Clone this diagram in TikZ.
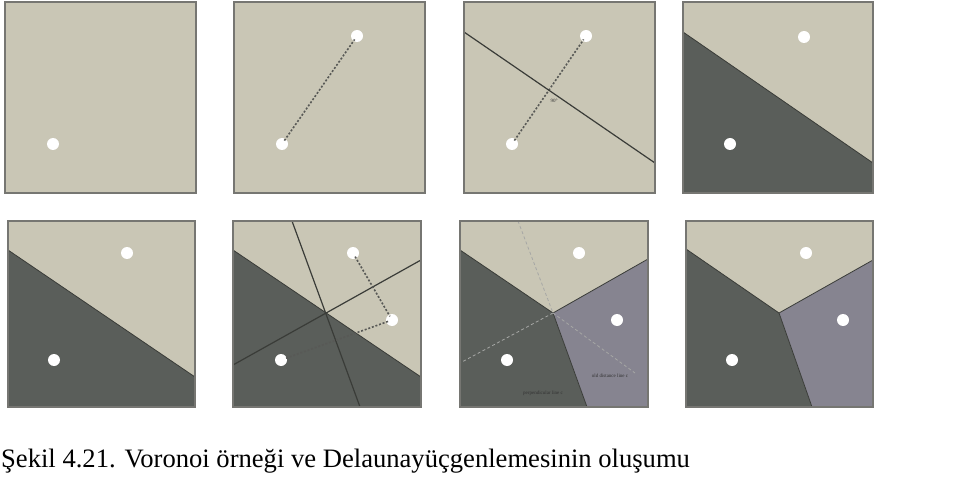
\documentclass[tikz,border=0pt]{standalone}
\usepackage{fontspec}
\setmainfont{Liberation Serif}
\usetikzlibrary{positioning}
\definecolor{cellsand}{RGB}{201,198,181}
\definecolor{celldark}{RGB}{90,94,90}
\definecolor{cellplum}{RGB}{134,132,144}
\definecolor{framegray}{RGB}{118,118,114}
\definecolor{edgeline}{RGB}{58,60,56}

\begin{document}
\begin{tikzpicture}[x=1pt,y=-1pt,
    site/.style={circle,fill=white,inner sep=0pt,minimum size=12pt},
    panel/.style={draw=framegray,line width=1.4pt},
    cutline/.style={draw=edgeline,line width=1.2pt},
    linkline/.style={draw=edgeline!85,line width=1.6pt,dash pattern=on 2pt off 1.8pt,shorten <=-2pt,shorten >=-2pt},
    ghost/.style={draw=edgeline!45,line width=0.8pt,dash pattern=on 3pt off 2.5pt},
    tinytext/.style={font=\fontsize{5}{6}\selectfont,text=black!80,inner sep=0pt}]
  \useasboundingbox (0,0) rectangle (957,494);
  % top row
  \fill[cellsand] (5,2) rectangle (196,193);
  \node[site] (p1a) at (53,144) {};
  \draw[panel] (5,2) rectangle (196,193);

  \fill[cellsand] (234,2) rectangle (425,193);
  \node[site] (p2a) at (282,144) {};
  \node[site] (p2b) at (357,36) {};
  \draw[linkline] (p2a) -- (p2b);
  \draw[panel] (234,2) rectangle (425,193);

  \fill[cellsand] (464,2) rectangle (655,193);
  \node[site] (p3a) at (512,144) {};
  \node[site] (p3b) at (586,36) {};
  \draw[linkline] (p3a) -- (p3b);
  \draw[cutline] (464,32) -- (655,163);
  \node[tinytext] (ang) at (554,101) {90°};
  \draw[panel] (464,2) rectangle (655,193);

  \fill[cellsand] (683,2) rectangle (873,193);
  \fill[celldark] (683,32) -- (873,163) -- (873,193) -- (683,193) -- cycle;
  \draw[cutline,line width=0.8pt] (683,32) -- (873,163);
  \node[site] (p4a) at (804,37) {};
  \node[site] (p4b) at (730,144) {};
  \draw[panel] (683,2) rectangle (873,193);

  % bottom row
  \fill[cellsand] (8,221) rectangle (195,407);
  \fill[celldark] (8,250) -- (195,377) -- (195,407) -- (8,407) -- cycle;
  \draw[cutline,line width=0.8pt] (8,250) -- (195,377);
  \node[site] (p5a) at (127,253) {};
  \node[site] (p5b) at (54,360) {};
  \draw[panel] (8,221) rectangle (195,407);

  \fill[cellsand] (233,221) rectangle (421,407);
  \fill[celldark] (233,250) -- (421,377) -- (421,407) -- (233,407) -- cycle;
  \draw[cutline,line width=0.8pt] (233,250) -- (421,377);
  \draw[cutline] (292,221) -- (360,407);
  \draw[cutline] (233,365) -- (421,260);
  \node[site] (p6a) at (353,253) {};
  \node[site] (p6b) at (392,320) {};
  \node[site] (p6c) at (281,360) {};
  \draw[linkline] (p6a) -- (p6b);
  \draw[linkline] (p6b) -- (p6c);
  \draw[panel] (233,221) rectangle (421,407);

  \coordinate (v7) at (553,313);
  \fill[cellsand] (460,221) -- (648,221) -- (648,259) -- (v7) -- (460,250) -- cycle;
  \fill[celldark] (460,250) -- (v7) -- (587,407) -- (460,407) -- cycle;
  \fill[cellplum] (v7) -- (648,259) -- (648,407) -- (587,407) -- cycle;
  \draw[cutline,line width=0.8pt] (460,250) -- (v7) -- (648,259);
  \draw[cutline,line width=0.8pt] (v7) -- (587,407);
  \draw[ghost] (518,221) -- (v7);
  \draw[ghost] (v7) -- (460,363);
  \draw[ghost] (v7) -- (635,373);
  \node[site] (p7a) at (579,253) {};
  \node[site] (p7b) at (617,320) {};
  \node[site] (p7c) at (507,360) {};
  \node[tinytext] (perp) at (543,393) {perpendicular line c};
  \node[tinytext] (olddist) at (610,376) {old distance line c};
  \draw[panel] (460,221) rectangle (648,407);

  \coordinate (v8) at (779,313);
  \fill[cellsand] (686,221) -- (873,221) -- (873,260) -- (v8) -- (686,249) -- cycle;
  \fill[celldark] (686,249) -- (v8) -- (812,407) -- (686,407) -- cycle;
  \fill[cellplum] (v8) -- (873,260) -- (873,407) -- (812,407) -- cycle;
  \draw[cutline,line width=0.8pt] (686,249) -- (v8) -- (873,260);
  \draw[cutline,line width=0.8pt] (v8) -- (812,407);
  \node[site] (p8a) at (806,253) {};
  \node[site] (p8b) at (843,320) {};
  \node[site] (p8c) at (732,360) {};
  \draw[panel] (686,221) rectangle (873,407);

  % caption
  \node[anchor=base west,inner sep=0pt,font=\fontsize{26.6}{32}\selectfont] (cap) at (1,467)
    {Şekil 4.21. Voronoi örneği ve Delaunayüçgenlemesinin oluşumu};
\end{tikzpicture}
\end{document}
